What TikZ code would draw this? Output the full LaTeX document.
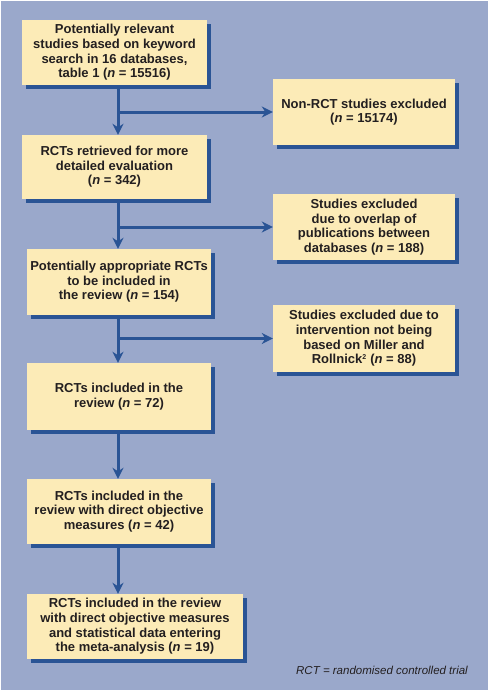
\documentclass[tikz,border=0pt]{standalone}
\usepackage{fontspec}
\setmainfont{Liberation Sans}
\usetikzlibrary{arrows.meta,shadows}
\definecolor{bgblue}{RGB}{154,168,203}
\definecolor{boxfill}{RGB}{252,235,183}
\definecolor{darkblue}{RGB}{42,84,149}
\definecolor{txt}{RGB}{35,31,32}
\begin{document}
\begin{tikzpicture}[x=1pt,y=-1pt,
  box/.style={fill=boxfill, draw=none, align=center, inner sep=0pt,
    text=txt, font=\fontsize{13}{14.6}\selectfont\bfseries,
    general shadow={fill=darkblue, shadow xshift=4pt, shadow yshift=-4pt}},
  flow/.style={draw=darkblue, line width=3pt,
    -{Stealth[length=11pt,width=11pt,inset=3.5pt]}}]
\useasboundingbox (0,0) rectangle (491,694);
\fill[white] (0,0) rectangle (491,694);
\fill[bgblue] (1,1) rectangle (488,690);

\node[box, minimum width=185, minimum height=65] (b1) at (114.5,52.5)
  {Potentially relevant\\studies based on keyword\\search in 16 databases,\\table 1 (\textit{n} = 15516)};
\node[box, minimum width=185, minimum height=64] (b2) at (114.5,167)
  {RCTs retrieved for more\\detailed evaluation\\(\textit{n} = 342)};
\node[box, minimum width=184, minimum height=66] (b3) at (119,282)
  {Potentially appropriate RCTs\\to be included in\\the review (\textit{n} = 154)};
\node[box, minimum width=184, minimum height=67] (b4) at (119,396.5)
  {RCTs included in the\\review (\textit{n} = 72)};
\node[box, minimum width=184, minimum height=65] (b5) at (119,511.5)
  {RCTs included in the\\review with direct objective\\measures (\textit{n} = 42)};
\node[box, minimum width=216, minimum height=65] (b6) at (135,626.5)
  {RCTs included in the review\\with direct objective measures\\and statistical data entering\\the meta-analysis (\textit{n} = 19)};

\node[box, minimum width=182, minimum height=66] (e1) at (364,112)
  {Non-RCT studies excluded\\(\textit{n} = 15174)};
\node[box, minimum width=182, minimum height=66] (e2) at (364,227)
  {Studies excluded\\due to overlap of\\publications between\\databases (\textit{n} = 188)};
\node[box, minimum width=182, minimum height=67] (e3) at (364,338.5)
  {Studies excluded due to\\intervention not being\\based on Miller and\\Rollnick\textsuperscript{\scriptsize 2} (\textit{n} = 88)};

\coordinate (trunk) at (118,0);

\draw[flow] (b1.south -| trunk) -- (b2.north -| trunk);
\draw[flow] (b2.south -| trunk) -- (b3.north -| trunk);
\draw[flow] (b3.south -| trunk) -- (b4.north -| trunk);
\draw[flow] (b4.south -| trunk) -- (b5.north -| trunk);
\draw[flow] (b5.south -| trunk) -- (b6.north -| trunk);

\draw[flow] (e1.west -| trunk) -- (e1.west);
\draw[flow] (e2.west -| trunk) -- (e2.west);
\draw[flow] (e3.west -| trunk) -- (e3.west);

\node[anchor=east, text=txt, font=\fontsize{11.5}{13}\selectfont\itshape, inner sep=0pt] (fn) at (468,670)
  {RCT = randomised controlled trial};
\end{tikzpicture}
\end{document}
